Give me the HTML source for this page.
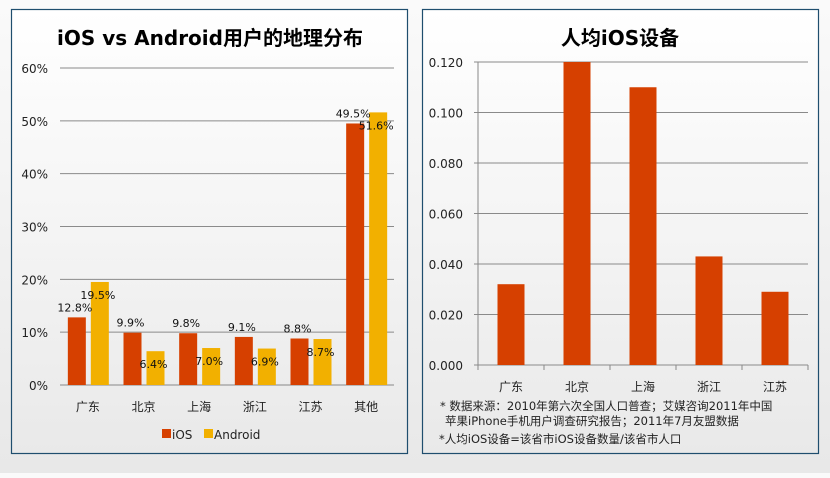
<!DOCTYPE html>
<html><head><meta charset="utf-8"><style>
body{margin:0;width:830px;height:473px;overflow:hidden;background:linear-gradient(#fafafa,#e8e8e8);font-family:"Liberation Sans","Noto Sans CJK SC",sans-serif}
svg text{font-family:"Verdana","DejaVu Sans","Noto Sans CJK SC",sans-serif}
</style></head><body>
<svg width="830" height="473">
<defs><linearGradient id="pg" x1="0" y1="0" x2="0" y2="1"><stop offset="0" stop-color="#ffffff"/><stop offset="1" stop-color="#e9e9e9"/></linearGradient></defs>
<g id="left"></g>
<g id="right"></g>
</svg>
<script>
const cats1=["广东","北京","上海","浙江","江苏","其他"];
const ios=[12.8,9.9,9.8,9.1,8.8,49.5];
const android=[19.5,6.4,7.0,6.9,8.7,51.6];
const ticks1=[0,10,20,30,40,50,60];
const cats2=["广东","北京","上海","浙江","江苏"];
const perCap=[0.032,0.120,0.110,0.043,0.029];
const ticks2=[0,0.02,0.04,0.06,0.08,0.10,0.12];
const NS="http://www.w3.org/2000/svg";
function mk(p,t,a,txt){const e=document.createElementNS(NS,t);for(const k in a)e.setAttribute(k,a[k]);if(txt!==undefined)e.textContent=txt;p.appendChild(e);return e;}
const L=document.getElementById('left'),R=document.getElementById('right');
// panels
let p=mk(L,'rect',{x:11.5,y:9.5,width:396,height:444,fill:'url(#pg)',stroke:'#1f4e6e','stroke-width':1.2});

p=mk(R,'rect',{x:422.5,y:9.5,width:396,height:444,fill:'url(#pg)',stroke:'#1f4e6e','stroke-width':1.2});

let t=mk(L,'text',{x:210,y:45,'text-anchor':'middle','font-size':20,'font-weight':'bold',fill:'#000'},'iOS vs Android用户的地理分布');

t=mk(R,'text',{x:620,y:45,'text-anchor':'middle','font-size':20,'font-weight':'bold',fill:'#000'},'人均iOS设备');

// left axes
const x0=60,x1=394,yb=385,yt=68;
const y1=v=>yb-(v/60)*(yb-yt);
const cw=(x1-x0)/cats1.length;
ticks1.forEach(v=>{
 const g=mk(L,'line',{x1:x0,x2:x1,y1:y1(v),y2:y1(v),stroke:v?'#8a8a8a':'#888','stroke-width':1});
 
 const l=mk(L,'text',{x:48,y:y1(v)+5,'text-anchor':'end','font-size':12,fill:'#222'},v+'%');
 
});
cats1.forEach((c,i)=>{
 const cx=x0+cw*(i+0.5);
 const a=mk(L,'rect',{x:cx-20,y:y1(ios[i]),width:18,height:yb-y1(ios[i]),fill:'#d64000'});
 
 const b=mk(L,'rect',{x:cx+3,y:y1(android[i]),width:18,height:yb-y1(android[i]),fill:'#f2b000'});
 
 const la=mk(L,'text',{x:cx-13,y:y1(ios[i])-6,'text-anchor':'middle','font-size':11,fill:'#111'},ios[i].toFixed(1)+'%');
 
 const lb=mk(L,'text',{x:cx+10,y:y1(android[i])+17,'text-anchor':'middle','font-size':11,fill:'#111'},android[i].toFixed(1)+'%');
 
 const lc=mk(L,'text',{x:cx,y:411,'text-anchor':'middle','font-size':12,fill:'#222'},c);
 
});
let lg=mk(L,'rect',{x:162,y:429,width:9,height:9,fill:'#d64000'});
lg=mk(L,'text',{x:172,y:439,'font-size':12,fill:'#222'},'iOS');
lg=mk(L,'rect',{x:204,y:429,width:9,height:9,fill:'#f2b000'});
lg=mk(L,'text',{x:214,y:439,'font-size':12,fill:'#222'},'Android');
// right
const rx0=478,rx1=808,ryb=365,ryt=62;
const y2=v=>ryb-(v/0.12)*(ryb-ryt);
const cw2=(rx1-rx0)/cats2.length;
ticks2.forEach(v=>{
 const g=mk(R,'line',{x1:rx0-4,x2:rx1,y1:y2(v),y2:y2(v),stroke:'#8a8a8a','stroke-width':1});
 
 const l=mk(R,'text',{x:463,y:y2(v)+5,'text-anchor':'end','font-size':12,fill:'#222'},v.toFixed(3));
 
});
let ax=mk(R,'line',{x1:rx0,x2:rx0,y1:ryt,y2:ryb,stroke:'#888'});
for(let i=0;i<=cats2.length;i++){const tk=mk(R,'line',{x1:rx0+cw2*i,x2:rx0+cw2*i,y1:ryb,y2:ryb+5,stroke:'#888'});}
cats2.forEach((c,i)=>{
 const cx=rx0+cw2*(i+0.5);
 const b=mk(R,'rect',{x:cx-13.5,y:y2(perCap[i]),width:27,height:ryb-y2(perCap[i]),fill:'#d64000'});
 
 const lc=mk(R,'text',{x:cx,y:391,'text-anchor':'middle','font-size':12,fill:'#222'},c);
 
});
const notes=[["* 数据来源：2010年第六次全国人口普查；艾媒咨询2011年中国",440,410],["苹果iPhone手机用户调查研究报告；2011年7月友盟数据",445,425],["*人均iOS设备=该省市iOS设备数量/该省市人口",439,443]];
notes.forEach((n,i)=>{const e=mk(R,'text',{x:n[1],y:n[2],'font-size':11.5,fill:'#222'},n[0]);});
</script>
</body></html>
